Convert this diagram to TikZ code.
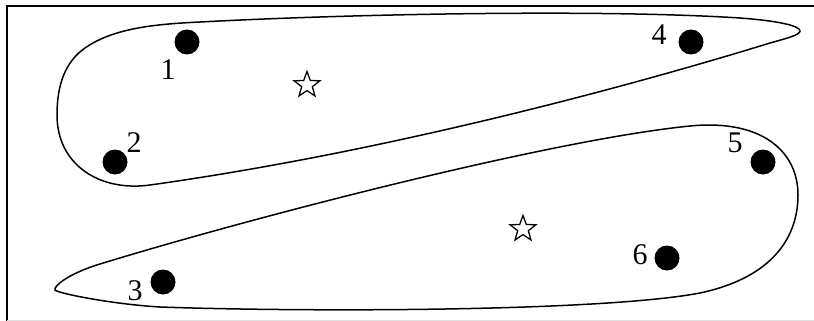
\documentclass[tikz,border=0pt]{standalone}
\usepackage{fontspec}
\setmainfont{Liberation Serif}
\usetikzlibrary{shapes.geometric}

\begin{document}
\begin{tikzpicture}[
  x=1pt, y=-1pt,
  dot/.style = {circle, fill, inner sep=0pt, minimum size=25pt},
  lbl/.style = {inner sep=0pt, font=\fontsize{30}{34}\selectfont},
  ctr/.style = {star, star points=5, star point ratio=2.4, draw,
                inner sep=0pt, minimum size=27pt, line width=1.3pt},
  blob/.style = {line width=1.5pt}
]
\useasboundingbox (0,0) rectangle (814,321);
% frame
\draw[line width=1.5pt] (7,321) -- (7,6) -- (814,6);
\draw[black!12, line width=1pt] (7,320) -- (814,320);

% upper cluster
\draw[blob] (800,31)
  .. controls (800,35) and (786,38.5) .. (770,43)
  .. controls (650,80) and (400,150) .. (150,185)
  .. controls (100,192) and (57,165) .. (57,115)
  .. controls (57,85) and (65,62) .. (85,48)
  .. controls (115,27) and (160,24) .. (200,22)
  .. controls (350,14) and (600,9) .. (740,18)
  .. controls (780,21) and (800,26) .. (800,31) -- cycle;

% lower cluster
\draw[blob] (55,290)
  .. controls (53,287) and (67,274) .. (100,264)
  .. controls (250,218) and (550,140) .. (690,126)
  .. controls (760,119) and (798,150) .. (798,195)
  .. controls (798,235) and (775,277) .. (700,293)
  .. controls (600,312) and (300,312) .. (160,307)
  .. controls (110,304) and (57,293) .. (55,290) -- cycle;

% points
\node[dot] (p1) at (187,42) {};
\node[dot] (p2) at (115,162) {};
\node[dot] (p3) at (163,282) {};
\node[dot] (p4) at (691,42) {};
\node[dot] (p5) at (763,162) {};
\node[dot] (p6) at (667,258) {};

\node[lbl] (l1) at (168,70) {1};
\node[lbl] (l2) at (134,143) {2};
\node[lbl] (l3) at (135,291) {3};
\node[lbl] (l4) at (659,35) {4};
\node[lbl] (l5) at (735,143) {5};
\node[lbl] (l6) at (640,255) {6};

% centres
\node[ctr] (c1) at (307,85) {};
\node[ctr] (c2) at (523,229) {};
\end{tikzpicture}
\end{document}
